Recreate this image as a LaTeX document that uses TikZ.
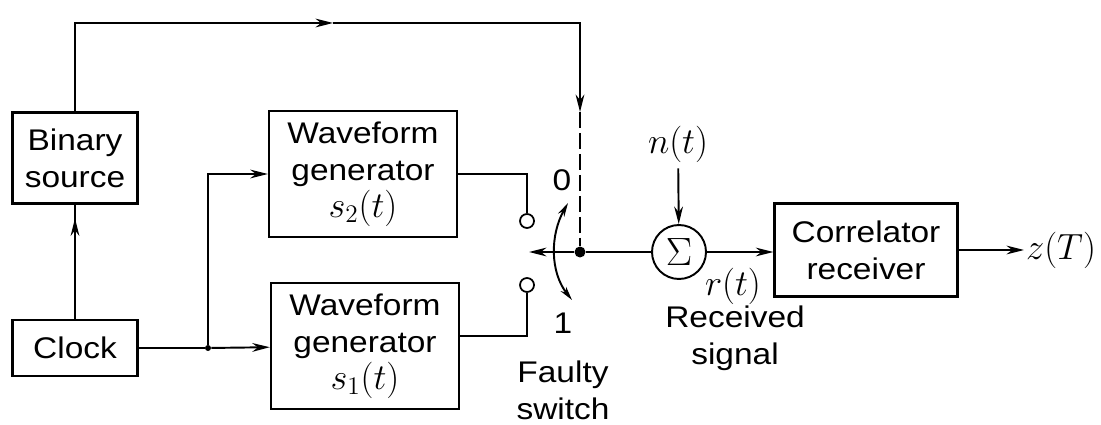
\documentclass[tikz,border=0pt]{standalone}
\usepackage[no-math]{fontspec}
\setmainfont{Liberation Sans}[FakeStretch=1.12]
\usetikzlibrary{
  arrows.meta,
  positioning,
  decorations.markings
}
\newcommand{\mth}[1]{{\fontsize{20}{21}\selectfont\(#1\)}}

\begin{document}
\begin{tikzpicture}[x=0.02cm,y=-0.02cm,
  font=\fontsize{17}{21}\selectfont,
  blk/.style={draw,line width=1.4pt,align=center,inner sep=0pt},
  wire/.style={line width=1.1pt},
  arr/.style={wire,-{Stealth[length=10pt,width=5pt]}},
  midarr/.style={wire,postaction={decorate},
    decoration={markings,mark=at position 0.88 with {\arrow{Stealth[length=10pt,width=5pt]}}}},
  tap/.style={circle,draw,line width=1pt,minimum size=0.28cm,inner sep=0pt},
  dot/.style={circle,fill,inner sep=0pt}
]
  \useasboundingbox (0,0) rectangle (1101,425);

  % blocks
  \node[blk,minimum width=2.5cm,minimum height=1.82cm] (bin) at (75,158) {Binary\\source};
  \node[blk,minimum width=2.5cm,minimum height=1.12cm] (clock) at (75,348) {Clock};
  \node[blk,minimum width=3.76cm,minimum height=2.52cm] (wg2) at (363,174) {Waveform\\generator\\\mth{s_2(t)}};
  \node[blk,minimum width=3.76cm,minimum height=2.52cm] (wg1) at (365,346) {Waveform\\generator\\\mth{s_1(t)}};
  \node[blk,minimum width=3.66cm,minimum height=1.86cm] (corr) at (866,250) {Correlator\\receiver};
  \node[circle,draw,line width=1.1pt,minimum size=1.08cm,inner sep=0pt] (sum) at (679,252) {\scalebox{1.3}{\(\Sigma\)}};

  % switch
  \node[tap] (c0) at (527,221) {};
  \node[tap] (c1) at (527,285) {};
  \node[dot,minimum size=0.22cm] (sw) at (580,252) {};
  \node[dot,minimum size=0.12cm] (split) at (208,348) {};
  \coordinate (swout) at (529,252);
  \coordinate (toparr) at (333,23);
  \coordinate (dashtip) at (580,112);
  \coordinate (a0) at (568,203);
  \coordinate (a1) at (572,300);

  % labels
  \node (lab0) at (562,180) {0};
  \node (lab1) at (563,323) {1};
  \node[align=center] (faulty) at (563,390) {Faulty\\switch};
  \node (noise) at (678,144) {\mth{n(t)}};
  \node (rt) at (733,286) {\mth{r(t)}};
  \node[align=center] (rx) at (735,338) {Received\\signal};
  \node[anchor=west,inner sep=1pt] (zt) at (1024,250) {\mth{z(T)}};

  % connections
  \draw[arr] (bin.north) |- (toparr);
  \draw[arr] (toparr) -| (dashtip);
  \draw[wire,dash pattern=on 0.32cm off 0.1cm] (dashtip) -- (sw);
  \draw[midarr] (clock.north) -- (bin.south);
  \draw[wire] (clock) -- (split);
  \draw[arr] (split) -- (wg1);
  \draw[arr] (split) |- (wg2);
  \draw[wire] (wg2.east) -| (c0.north);
  \draw[wire] ([yshift=0.2cm]wg1.east) -| (c1.south);
  \draw[arr] (sw) -- (swout);
  \draw[wire,{Stealth[length=8pt,width=4pt]}-{Stealth[length=8pt,width=4pt]}]
    (a0) .. controls (550,235) and (550,272) .. (a1);
  \draw[wire] (sw) -- (sum);
  \draw[arr] (noise) -- (sum);
  \draw[arr] (sum) -- (sum -| corr.west);
  \draw[arr] (corr) -- (zt);
\end{tikzpicture}
\end{document}
